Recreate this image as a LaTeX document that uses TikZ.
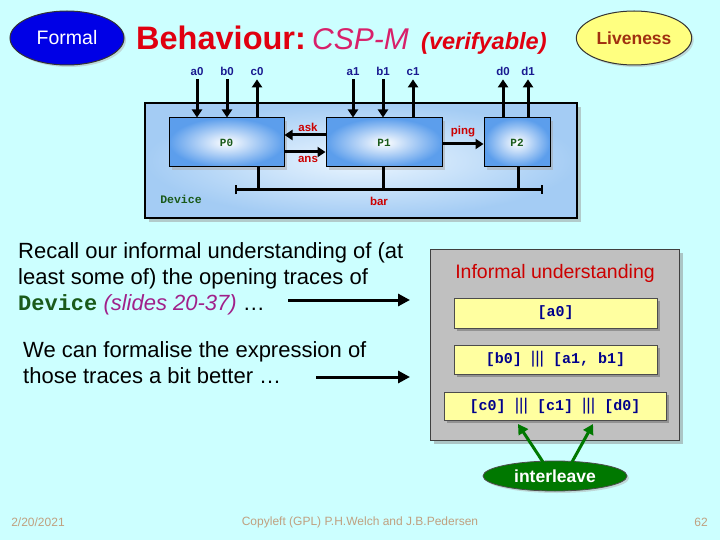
\documentclass[tikz,border=0pt]{standalone}
\usepackage{fontspec}
\setmainfont{Liberation Sans}
\setmonofont{Liberation Mono}
\usetikzlibrary{arrows.meta,shapes.geometric,shadows}
\definecolor{bgc}{HTML}{CCFFFF}
\definecolor{labblue}{HTML}{1A1A90}
\definecolor{labred}{HTML}{CC0000}
\definecolor{pgreen}{HTML}{1A5A1A}
\definecolor{procblue}{HTML}{5C9EEC}
\definecolor{devblue}{HTML}{A4CCF4}
\definecolor{titlered}{HTML}{E00010}
\definecolor{cspmag}{HTML}{D8206A}
\definecolor{slidepurple}{HTML}{A0208A}
\definecolor{foot}{HTML}{C0A080}
\definecolor{yelbox}{HTML}{FFFFA0}
\definecolor{trace}{HTML}{00008C}
\definecolor{intgreen}{HTML}{007800}
\definecolor{livered}{HTML}{A03010}
\begin{document}
\begin{tikzpicture}[x=1pt,y=-1pt,
  lbl/.style={font=\bfseries\fontsize{11.5}{13}\selectfont, text=labblue, inner sep=0pt, anchor=base},
  rlbl/.style={font=\bfseries\fontsize{11.5}{13}\selectfont, text=labred, inner sep=0pt},
  proc/.style={draw=black, line width=1pt, inner color=white, outer color=procblue,
     font=\ttfamily\bfseries\fontsize{11}{13}\selectfont, text=pgreen,
     drop shadow={shadow xshift=3pt, shadow yshift=-3pt, fill=gray!70}},
  ch/.style={line width=3pt, -{Triangle[length=8pt,width=10pt]}},
  body/.style={font=\fontsize{22}{26}\selectfont, anchor=base west, inner sep=0pt, align=left},
  tbox/.style={draw=black!70, line width=0.8pt, fill=yelbox, text=trace,
     font=\ttfamily\bfseries\fontsize{15}{17}\selectfont,
     drop shadow={shadow xshift=3pt, shadow yshift=-3pt, fill=gray!80!black}},
  bigarrow/.style={line width=3pt, -{Triangle[length=12pt,width=12pt]}},
  foottext/.style={font=\fontsize{12}{14}\selectfont, text=foot, inner sep=0pt}
]
\useasboundingbox (0,0) rectangle (720,540);
\fill[bgc] (0,0) rectangle (720,540);

% header
\node[ellipse, draw=black!80, line width=1pt, fill={rgb,255:red,0;green,0;blue,230}, minimum width=114pt, minimum height=54pt,
  text=white, font=\fontsize{19.5}{22}\selectfont,
  drop shadow={shadow xshift=2pt, shadow yshift=-2pt, fill=gray!60}] (formal) at (67,38) {Formal};
\node[anchor=base west, inner sep=0pt, text=titlered, font=\bfseries\fontsize{32.5}{36}\selectfont] (title) at (136,50) {Behaviour:};
\node[anchor=base west, inner sep=0pt, text=cspmag, font=\itshape\fontsize{30}{34}\selectfont] (csp) at (312,50) {CSP-M};
\node[anchor=base west, inner sep=0pt, text=titlered, font=\bfseries\itshape\fontsize{23.5}{26}\selectfont] (verif) at (421,50) {(verifyable)};
\node[ellipse, draw=black!80, line width=1pt, fill={rgb,255:red,255;green,255;blue,128}, minimum width=114pt, minimum height=54pt,
  text=livered, font=\bfseries\fontsize{17.5}{20}\selectfont,
  drop shadow={shadow xshift=2pt, shadow yshift=-2pt, fill=gray!60}] (live) at (634,38) {Liveness};

% device
\node[draw=black, line width=2pt, inner color={rgb,255:red,235;green,246;blue,255}, outer color=devblue,
  minimum width=432pt, minimum height=115pt,
  drop shadow={shadow xshift=4pt, shadow yshift=-4pt, fill=gray!80}] (dev) at (361,160.5) {};
\node[proc, minimum width=115pt, minimum height=49pt] (P0) at (226.5,142.5) {P0};
\node[proc, minimum width=116pt, minimum height=49pt] (P1) at (384,142.5) {P1};
\node[proc, minimum width=66pt, minimum height=49pt] (P2) at (517,142.5) {P2};

\node[lbl] (a0) at (197,76) {a0};
\node[lbl] (b0) at (227,76) {b0};
\node[lbl] (c0) at (257,76) {c0};
\node[lbl] (a1) at (353,76) {a1};
\node[lbl] (b1) at (383,76) {b1};
\node[lbl] (c1) at (413,76) {c1};
\node[lbl] (d0) at (503,76) {d0};
\node[lbl] (d1) at (528,76) {d1};

\draw[ch] ([yshift=-3pt]a0.south) -- (a0.south |- P0.north);
\draw[ch] ([yshift=-3pt]b0.south) -- (b0.south |- P0.north);
\draw[ch] (c0.south |- P0.north) -- ([yshift=-3pt]c0.south);
\draw[ch] ([yshift=-3pt]a1.south) -- (a1.south |- P1.north);
\draw[ch] ([yshift=-3pt]b1.south) -- (b1.south |- P1.north);
\draw[ch] (c1.south |- P1.north) -- ([yshift=-3pt]c1.south);
\draw[ch] (d0.south |- P2.north) -- ([yshift=-3pt]d0.south);
\draw[ch] (d1.south |- P2.north) -- ([yshift=-3pt]d1.south);

\draw[ch] ([yshift=7.5pt]P1.west) -- ([yshift=7.5pt]P0.east);
\draw[ch] ([yshift=-9.5pt]P0.east) -- ([yshift=-9.5pt]P1.west);
\draw[ch] ([yshift=-1.5pt]P1.east) -- ([yshift=-1.5pt]P2.west);
\node[rlbl] (ask) at (308,127) {ask};
\node[rlbl] (ans) at (308,159) {ans};
\node[rlbl] (ping) at (463,132) {ping};

\coordinate (barL) at (235,190);
\coordinate (barR) at (543,190);
\draw[line width=3pt, {Bar[width=9pt,line width=2pt]}-{Bar[width=9pt,line width=2pt]}] (barL) -- (barR);
\draw[line width=3pt] ([xshift=31.5pt]P0.south) -- ([xshift=31.5pt]P0.south |- barL);
\draw[line width=3pt] ([xshift=-1pt]P1.south) -- ([xshift=-1pt]P1.south |- barL);
\draw[line width=3pt] ([xshift=1pt]P2.south) -- ([xshift=1pt]P2.south |- barL);
\node[rlbl] (bar) at (379,201) {bar};
\node[font=\ttfamily\bfseries\fontsize{11.5}{13}\selectfont, text=pgreen, inner sep=0pt] (devlbl) at (181,199) {Device};

% body text
\node[body] (t1) at (18,310) {Recall our informal understanding of (at\\least some of) the opening traces of\\{\ttfamily\bfseries\color{pgreen}Device} {\itshape\color{slidepurple}(slides 20-37)} \dots};
\node[body] (t2) at (23,383) {We can formalise the expression of\\those traces a bit better \dots};
\coordinate (ar1s) at (288,300);
\coordinate (ar1e) at (410,300);
\coordinate (ar2s) at (316,377);
\coordinate (ar2e) at (410,377);
\draw[bigarrow] (ar1s) -- (ar1e);
\draw[bigarrow] (ar2s) -- (ar2e);

% informal box
\node[draw=black!75, line width=1pt, fill={rgb,255:red,192;green,192;blue,192}, minimum width=249pt, minimum height=191pt,
  drop shadow={shadow xshift=4pt, shadow yshift=-4pt, fill=gray!90}] (inf) at (554.5,344.5) {};
\node[text=labred, font=\fontsize{19.5}{22}\selectfont, inner sep=0pt] (inftitle) at (555,273) {Informal understanding};
\node[tbox, minimum width=203pt, minimum height=30pt] (tr1) at (555.5,313) {[a0]};
\node[tbox, minimum width=203pt, minimum height=29pt] (tr2) at (555.5,359.5) {[b0] {\rmfamily\mdseries\fontsize{17}{17}\selectfont|||} [a1, b1]};
\node[tbox, minimum width=222pt, minimum height=28pt] (tr3) at (555,406) {[c0] {\rmfamily\mdseries\fontsize{17}{17}\selectfont|||} [c1] {\rmfamily\mdseries\fontsize{17}{17}\selectfont|||} [d0]};

% interleave
\node[ellipse, draw=black!70, line width=0.8pt, fill=intgreen, minimum width=144pt, minimum height=30pt, inner sep=0pt,
  text=white, font=\bfseries\fontsize{17.5}{20}\selectfont,
  drop shadow={shadow xshift=2pt, shadow yshift=-2pt, fill=gray!60}] (il) at (555,476) {interleave};
\coordinate (g1) at (518,424);
\coordinate (g2) at (593,424);
\draw[line width=3pt, intgreen, -{Triangle[length=10pt,width=11pt]}] (543,462) -- (g1);
\draw[line width=3pt, intgreen, -{Triangle[length=10pt,width=11pt]}] (572,462) -- (g2);

% footer
\node[foottext] (date) at (38,522) {2/20/2021};
\node[foottext] (copy) at (360,522) {Copyleft (GPL) P.H.Welch and J.B.Pedersen};
\node[foottext] (page) at (701,522) {62};
\end{tikzpicture}
\end{document}
